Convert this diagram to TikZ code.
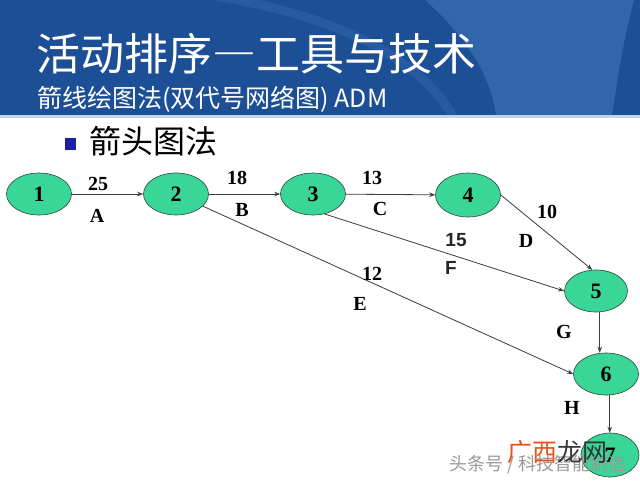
\documentclass[tikz,border=0pt]{standalone}
\usepackage{fontspec}
\setmainfont{Liberation Serif}
\newfontfamily\cjk{Noto Sans CJK SC}
\newfontfamily\cjkfw[RawFeature=+fwid]{Noto Sans CJK SC}
\newfontfamily\arialf{Liberation Sans}
\usetikzlibrary{arrows.meta,shapes.geometric}
\definecolor{hdrblue}{RGB}{29,79,150}
\definecolor{hdrlight}{RGB}{50,102,170}
\definecolor{nodegreen}{RGB}{58,214,152}
\definecolor{nodeline}{RGB}{40,70,55}
\definecolor{edgegray}{RGB}{60,60,60}
\definecolor{bulletblue}{RGB}{30,30,160}
\definecolor{wmorange}{RGB}{232,84,30}
\begin{document}
\begin{tikzpicture}[x=1pt,y=-1pt,
  ev/.style={ellipse, draw=nodeline, line width=0.6pt, fill=nodegreen,
    minimum width=65pt, minimum height=42pt, inner sep=0pt,
    font=\bfseries\fontsize{22}{22}\selectfont},
  arr/.style={draw=edgegray, line width=0.8pt, -{Stealth[length=6pt,width=4.5pt]}},
  lbl/.style={font=\bfseries\fontsize{20}{20}\selectfont, inner sep=0pt},
  slbl/.style={font=\arialf\bfseries\fontsize{19}{19}\selectfont, inner sep=0pt, text=black!85}]
\useasboundingbox (0,0) rectangle (640,480);
\clip (0,0) rectangle (640,480);
\fill[white] (0,0) rectangle (640,480);
% header
\fill[hdrblue] (0,0) rectangle (640,116);
\begin{scope}
\clip (0,0) rectangle (640,116);
\fill[hdrlight] (425,0) .. controls (470,40) and (492,80) .. (496,116) -- (612,116) .. controls (620,60) and (626,30) .. (634,0) -- cycle;
\draw[hdrlight, line width=9pt, opacity=0.5] (215,-4) .. controls (330,15) and (420,55) .. (455,120);
\end{scope}
\fill[white!75!hdrblue] (0,115) rectangle (640,118);
\node[font=\cjk\fontsize{44}{44}\selectfont, text=white, anchor=west, inner sep=0pt] (title) at (36,54) {活动排序{\cjkfw —}工具与技术};
\node[font=\cjk\fontsize{25}{25}\selectfont, text=white, anchor=west, inner sep=0pt] (sub) at (37,99) {箭线绘图法(双代号网络图) ADM};
% bullet
\fill[bulletblue] (65,138) rectangle (76,150);
\node[font=\cjk\fontsize{32}{32}\selectfont, anchor=west, inner sep=0pt] (bt) at (89,141) {箭头图法};
% nodes
\node[ev] (n1) at (39,194) {1};
\node[ev] (n2) at (176,194) {2};
\node[ev] (n3) at (313,194) {3};
\node[ev, minimum height=44pt] (n4) at (468,195) {4};
\node[ev, minimum width=63pt] (n5) at (596,291) {5};
\node[ev] (n6) at (606,374) {6};
\node[ev, minimum width=58pt, minimum height=44pt] (n7) at (610,455) {7};
% edges
\draw[arr] (n1) -- (n2);
\draw[arr] (n2) -- (n3);
\draw[arr] (n3) -- (n4);
\draw[arr] (n4.east) -- (n5.100);
\draw[arr] (n3.-60) -- (n5.west);
\draw[arr] (n2) -- (n6.west);
\draw[arr] (n5.-80) -- (n5.-80 |- n6.north);
\draw[arr] (n6.-80) -- (n6.-80 |- n7.north);
% labels
\node[lbl] (l25) at (98,184) {25};
\node[lbl] (lA) at (97,216) {A};
\node[lbl] (l18) at (237,178) {18};
\node[lbl] (lB) at (242,210) {B};
\node[lbl] (l13) at (372,178) {13};
\node[lbl] (lC) at (380,209) {C};
\node[lbl] (l10) at (547,212) {10};
\node[lbl] (lD) at (526,241) {D};
\node[slbl] (l15) at (456,240) {15};
\node[slbl] (lF) at (451,268) {F};
\node[lbl] (l12) at (372,274) {12};
\node[lbl] (lE) at (360,304) {E};
\node[lbl] (lG) at (564,332) {G};
\node[lbl] (lH) at (572,408) {H};
% watermark
\node[font=\cjk\fontsize{18}{18}\selectfont, text=gray!80, inner sep=0pt] (wm1) at (538,465) {头条号 / 科技智能制造};
\node[font=\cjk\fontsize{25}{25}\selectfont, inner sep=0pt] (wm2) at (557,452) {\textcolor{wmorange}{广西}\textcolor{black!80}{龙网}};
\end{tikzpicture}
\end{document}
